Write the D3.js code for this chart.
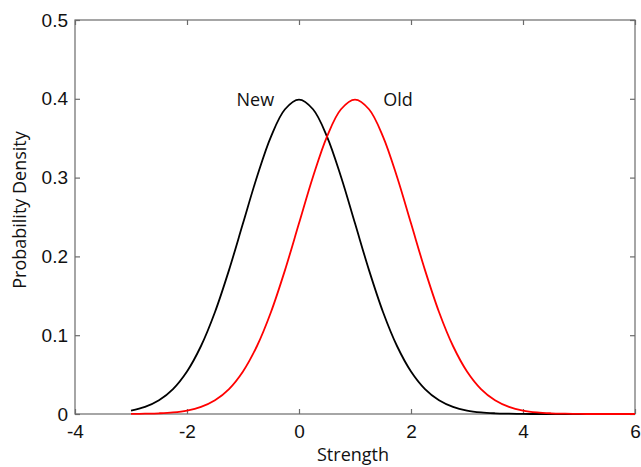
<!DOCTYPE html>
<html>
<head>
<meta charset="utf-8">
<script src="https://cdn.jsdelivr.net/npm/d3@7"></script>
<style>
body { margin: 0; background: #fff; }
svg text { fill: #111; }
</style>
</head>
<body>
<svg id="chart" width="641" height="467"></svg>
<script>
// strength values (x) and the two densities
const strength = [-3, -2.75, -2.5, -2.25, -2, -1.75, -1.5, -1.25, -1, -0.75, -0.5, -0.25, 0,
  0.25, 0.5, 0.75, 1, 1.25, 1.5, 1.75, 2, 2.25, 2.5, 2.75, 3, 3.25, 3.5, 3.75, 4,
  4.25, 4.5, 4.75, 5, 5.25, 5.5, 5.75, 6];
const newDensity = [0.0044, 0.0091, 0.0175, 0.0317, 0.0540, 0.0863, 0.1295, 0.1826, 0.2420, 0.3011, 0.3521, 0.3867, 0.3989,
  0.3867, 0.3521, 0.3011, 0.2420, 0.1826, 0.1295, 0.0863, 0.0540, 0.0317, 0.0175, 0.0091, 0.0044, 0.0020, 0.0009, 0.0004, 0.0001,
  0, 0, 0, 0, 0, 0, 0, 0];
const oldDensity = [0.0001, 0.0004, 0.0009, 0.0020, 0.0044, 0.0091, 0.0175, 0.0317, 0.0540, 0.0863, 0.1295, 0.1826, 0.2420,
  0.3011, 0.3521, 0.3867, 0.3989, 0.3867, 0.3521, 0.3011, 0.2420, 0.1826, 0.1295, 0.0863, 0.0540, 0.0317, 0.0175, 0.0091, 0.0044,
  0.0020, 0.0009, 0.0004, 0.0001, 0, 0, 0, 0];
const xTicks = [-4, -2, 0, 2, 4, 6];
const yTicks = [0, 0.1, 0.2, 0.3, 0.4, 0.5];
const labels = [{name: "New", x: -0.78, y: 0.4}, {name: "Old", x: 1.77, y: 0.4}];

const svg = d3.select('#chart');
const plotL = 75, plotR = 635, plotT = 20, plotB = 414;

const x = d3.scaleLinear().domain([-4, 6]).range([plotL, plotR]);
const y = d3.scaleLinear().domain([0, 0.5]).range([plotB, plotT]);

const axisColor = '#6b6b6b';

// frame box
svg.append('rect')
  .attr('x', plotL).attr('y', plotT)
  .attr('width', plotR - plotL).attr('height', plotB - plotT)
  .attr('fill', 'none').attr('stroke', axisColor).attr('stroke-width', 1.2);

const tickStyle = g => {
  g.select('.domain').remove();
  g.selectAll('line').attr('stroke', axisColor).attr('stroke-width', 1.2);
  g.selectAll('text').style('font-family', 'Liberation Sans, Arial, sans-serif').style('font-size', '19px').attr('fill', '#111');
};

svg.append('g').attr('transform', `translate(0,${plotB})`)
  .call(d3.axisBottom(x).tickValues(xTicks).tickFormat(d => String(d)).tickSizeInner(-5).tickSizeOuter(0).tickPadding(11))
  .call(tickStyle);
svg.append('g').attr('transform', `translate(0,${plotT})`)
  .call(d3.axisTop(x).tickValues(xTicks).tickFormat('').tickSizeInner(-5).tickSizeOuter(0))
  .call(tickStyle);
svg.append('g').attr('transform', `translate(${plotL},0)`)
  .call(d3.axisLeft(y).tickValues(yTicks).tickFormat(d => d === 0 ? '0' : d3.format('.1f')(d)).tickSizeInner(-5).tickSizeOuter(0).tickPadding(7))
  .call(tickStyle);
svg.append('g').attr('transform', `translate(${plotR},0)`)
  .call(d3.axisRight(y).tickValues(yTicks).tickFormat('').tickSizeInner(-5).tickSizeOuter(0))
  .call(tickStyle);

const line = d3.line()
  .x(d => x(d[0]))
  .y(d => y(d[1]))
  .curve(d3.curveCatmullRom);

svg.append('path')
  .datum(strength.map((s, i) => [s, newDensity[i]]))
  .attr('d', line)
  .attr('fill', 'none').attr('stroke', '#000').attr('stroke-width', 1.8);

svg.append('path')
  .datum(strength.map((s, i) => [s, oldDensity[i]]))
  .attr('d', line)
  .attr('fill', 'none').attr('stroke', '#ff0000').attr('stroke-width', 1.8);

svg.selectAll('.lbl')
  .data(labels)
  .enter()
  .append('text')
  .attr('class', 'lbl')
  .attr('x', d => x(d.x))
  .attr('y', d => y(d.y) + 7)
  .attr('text-anchor', 'middle')
  .style('font-family', 'Open Sans, sans-serif')
  .style('font-size', '18px')
  .text(d => d.name);

svg.append('text')
  .attr('x', 353)
  .attr('y', 461)
  .attr('text-anchor', 'middle')
  .style('font-family', 'Open Sans, sans-serif')
  .style('font-size', '18px')
  .text('Strength');

svg.append('text')
  .attr('transform', `translate(26,210) rotate(-90)`)
  .attr('text-anchor', 'middle')
  .style('font-family', 'Open Sans, sans-serif')
  .style('font-size', '18px')
  .text('Probability Density');
</script>
</body>
</html>
